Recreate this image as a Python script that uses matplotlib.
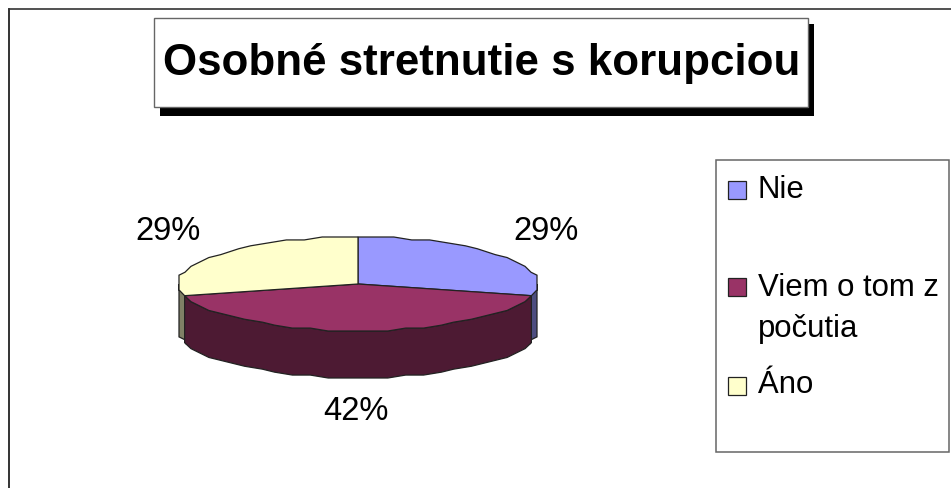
import numpy as np
import matplotlib
matplotlib.use("Agg")
import matplotlib.pyplot as plt
from matplotlib.patches import Polygon, Rectangle

plt.rcParams['font.family'] = ['Liberation Sans', 'DejaVu Sans']

title = "Osobné stretnutie s korupciou"
categories = ["Nie", "Viem o tom z\npočutia", "Áno"]
values = [29, 42, 29]
pct_labels = ["29%", "42%", "29%"]
top_colors = ["#9999FF", "#993366", "#FFFFCC"]
side_colors = ["#4D4D80", "#4D1A33", "#808066"]

W, H = 951, 488
CX, CY, RX, RY, DEPTH = 358, 284, 179, 47, 47
EDGE = "#222222"


def ell(deg):
    # deg is clockwise from 12 o'clock
    a = np.radians(deg)
    return CX + RX * np.sin(a), CY - RY * np.cos(a)


def jagged(a0, a1, step=6.0):
    # the original outline is stepped, snap the rim to a small grid
    n = max(int(round((a1 - a0) / step)), 1)
    ang = np.linspace(a0, a1, n + 1)
    x, y = ell(ang)
    gx, gy = RX / 30, RY / 16
    x[1:-1] = CX + np.round((x[1:-1] - CX) / gx) * gx
    y[1:-1] = CY + np.round((y[1:-1] - CY) / gy) * gy
    return x, y


def draw_side(ax, a0, a1, color, z):
    x, y = jagged(a0, a1)
    pts = list(zip(x, y)) + list(zip(x[::-1], y[::-1] + DEPTH))
    ax.add_patch(Polygon(pts, closed=True, fc=color, ec=EDGE, lw=0.9, zorder=z))


fig = plt.figure(figsize=(W / 100, H / 100), dpi=100)
ax = fig.add_axes([0, 0, 1, 1])
ax.set_xlim(0, W)
ax.set_ylim(H, 0)
ax.axis("off")

# outer frame
ax.plot([9, 9], [H, 9], color="#111111", lw=1.2, zorder=1)
ax.plot([9, W], [9, 9], color="#333333", lw=1.2, zorder=1)

# title box with shadow
ax.add_patch(Rectangle((160, 24), 654, 92, fc="black", ec="none", zorder=2))
ax.add_patch(Rectangle((154, 18), 654, 89, fc="white", ec="#666666", lw=1, zorder=3))
ax.text(481.5, 75, title, fontsize=31.6, fontweight="bold", ha="center", va="baseline", zorder=4)

# pie slices, boundaries worked out from the values
shares = np.array(values) / sum(values) * 360
ends = np.cumsum(shares)
starts = ends - shares

# side walls: only the front half of the disc shows
draw_side(ax, 90, starts[1] + 2, side_colors[0], 5)
draw_side(ax, ends[1] - 2, 270, side_colors[2], 5)
draw_side(ax, starts[1], ends[1], side_colors[1], 6)

for s, e, c in zip(starts, ends, top_colors):
    x, y = jagged(s, e)
    pts = [(CX, CY)] + list(zip(x, y))
    ax.add_patch(Polygon(pts, closed=True, fc=c, ec=EDGE, lw=0.9, zorder=7))

# percent labels
label_pos = [(546, 240), (356, 420), (168, 240)]
for (lx, ly), t in zip(label_pos, pct_labels):
    ax.text(lx, ly, t, fontsize=23.6, ha="center", va="baseline", zorder=8)

# legend
ax.add_patch(Rectangle((716, 160), 233, 292, fc="white", ec="#666666", lw=1.1, zorder=3))
swatch_y = [190, 287, 385.5]
text_y = [198, 296, 393]
for sy, ty, c, cat in zip(swatch_y, text_y, top_colors, categories):
    ax.add_patch(Rectangle((727.5, sy - 9), 18, 18, fc=c, ec="#222222", lw=0.9, zorder=4))
    lines = cat.split("\n")
    ax.text(758, ty, lines[0], fontsize=22.4, ha="left", va="baseline", zorder=4)
    if len(lines) > 1:
        ax.text(758, ty + 41, lines[1], fontsize=22.4, ha="left", va="baseline", zorder=4)

fig.savefig("out.png", dpi=100)
